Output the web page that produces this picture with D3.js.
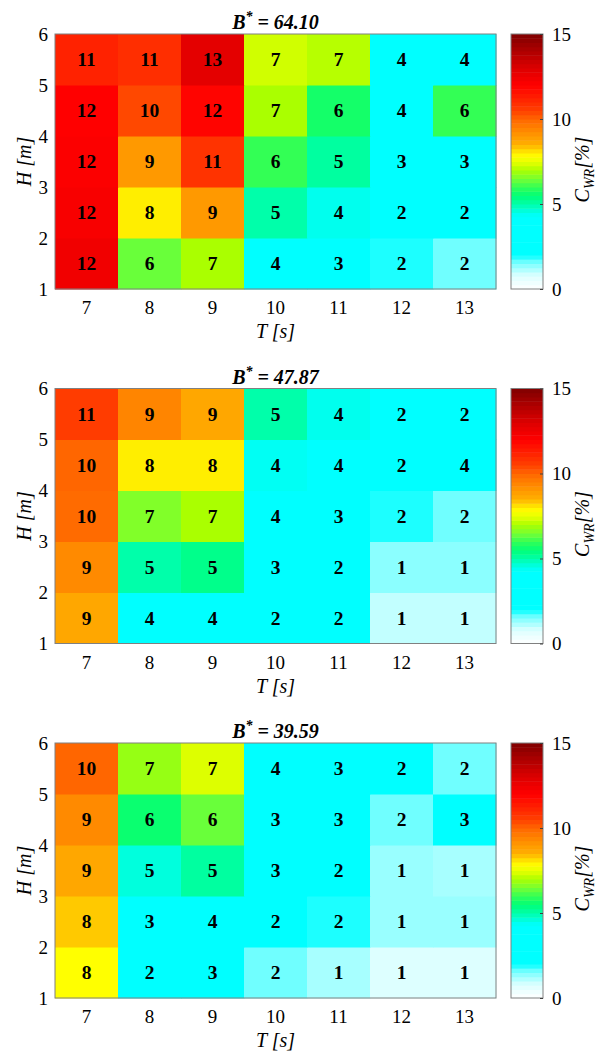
<!DOCTYPE html>
<html>
<head>
<meta charset="utf-8">
<script src="https://cdn.jsdelivr.net/npm/d3@7"></script>
<style>
body { margin: 0; background: #fff; }
text { font-family: "Liberation Serif", "Times New Roman", serif; fill: #000; }
</style>
</head>
<body>
<script>
const periods = [7, 8, 9, 10, 11, 12, 13];      // T [s]
const heightBands = [1, 2, 3, 4, 5];             // lower edge of each H band [m]
const bValues = ["64.10", "47.87", "39.59"];

// C_WR [%] per panel, one row per H band (1-2 m first, 5-6 m last)
const cwrB64 = [
    [12.4, 6.4, 7.0, 3.9, 3.0, 1.9, 1.6],
    [12.2, 8.0, 9.0, 5.0, 4.45, 2.1, 2.0],
    [12.1, 9.0, 10.8, 6.0, 5.1, 3.2, 3.1],
    [12.0, 10.4, 11.9, 7.0, 5.7, 4.0, 6.0],
    [11.2, 10.9, 12.8, 7.3, 7.1, 4.0, 4.1]
];
const cwrB47 = [
    [8.7, 4.0, 4.0, 2.0, 2.0, 1.0, 1.0],
    [9.3, 5.0, 5.3, 3.0, 2.2, 1.4, 1.4],
    [9.9, 6.6, 7.0, 3.9, 3.0, 1.9, 1.6],
    [10.0, 8.0, 8.0, 4.4, 4.0, 2.0, 3.8],
    [10.6, 9.4, 8.7, 5.0, 4.45, 2.2, 2.1]
];
const cwrB39 = [
    [7.8, 2.0, 2.8, 1.6, 1.2, 0.8, 0.8],
    [8.3, 3.0, 3.6, 2.0, 1.9, 1.3, 1.3],
    [8.7, 4.6, 5.1, 3.0, 2.0, 1.3, 1.2],
    [9.3, 5.6, 6.4, 3.0, 3.0, 1.6, 3.0],
    [10.0, 6.8, 7.4, 4.0, 3.0, 2.0, 1.6]
];

// colormap (white -> cyan -> green -> yellow -> red -> dark red)
const colorStops = [0, 0.8, 1.25, 1.6, 2.0, 4.3, 4.6, 5.0, 5.5, 6.0, 6.5, 7.0, 7.4, 7.8, 8.0, 8.5, 9.0, 9.5, 10.0, 10.5, 11.0, 12.0, 13.0, 15.0];
const colorHex = ["#ffffff", "#ddffff", "#a0ffff", "#70ffff", "#00ffff", "#00ffff", "#00ffdd", "#00ffaa", "#00ff77", "#33ff55", "#77ff33", "#aaff00", "#ddff00", "#ffff00", "#ffee00", "#ffb000", "#ff9900", "#ff8000", "#ff6600", "#ff4000", "#ff2a00", "#ff0000", "#dd0000", "#800000"];
const cbarTicks = [0, 5, 10, 15];

const panels = [cwrB64, cwrB47, cwrB39];

const width = 599, height = 1054;
const left = 55, plotW = 441, plotH = 255;
const panelTops = [34, 388.5, 743];
const cbarX = 511, cbarW = 32;
const serif = "Liberation Serif";

const color = d3.scaleLinear().domain(colorStops).range(colorHex).clamp(true);

const svg = d3.select("body").append("svg")
    .attr("width", width)
    .attr("height", height);

const x = d3.scaleBand().domain(periods).range([0, plotW]);
const y = d3.scaleLinear().domain([1, 6]).range([plotH, 0]);
const c = d3.scaleLinear().domain([0, 15]).range([plotH, 0]);

panels.forEach((data, p) => {
    const g = svg.append("g")
        .attr("transform", `translate(${left},${panelTops[p]})`);

    const cells = [];
    data.forEach((row, i) => {
        row.forEach((v, j) => cells.push({ t: periods[j], h: heightBands[i], v: v }));
    });

    // cells
    g.selectAll("rect.cell")
        .data(cells)
        .enter().append("rect")
        .attr("class", "cell")
        .attr("x", d => x(d.t))
        .attr("y", d => y(d.h + 1))
        .attr("width", x.bandwidth() + 0.5)
        .attr("height", y(1) - y(2) + 0.5)
        .attr("fill", d => color(d.v));

    // cell labels
    g.selectAll("text.val")
        .data(cells)
        .enter().append("text")
        .attr("class", "val")
        .attr("x", d => x(d.t) + x.bandwidth() / 2)
        .attr("y", d => y(d.h + 0.5))
        .attr("dy", "0.35em")
        .attr("text-anchor", "middle")
        .attr("font-size", 19.5)
        .attr("font-weight", "bold")
        .text(d => Math.round(d.v));

    // border
    g.append("rect")
        .attr("width", plotW)
        .attr("height", plotH)
        .attr("fill", "none")
        .attr("stroke", "#808080")
        .attr("stroke-width", 1);

    // axes
    const xAxis = g.append("g")
        .attr("transform", `translate(0,${plotH})`)
        .call(d3.axisBottom(x).tickSize(0).tickPadding(12));
    xAxis.select(".domain").remove();
    xAxis.selectAll("text").attr("font-size", 19).attr("font-family", serif).attr("fill", "#262626");

    const yAxis = g.append("g")
        .call(d3.axisLeft(y).ticks(5).tickFormat(d3.format("d")).tickSize(0).tickPadding(7));
    yAxis.select(".domain").remove();
    yAxis.selectAll("text").attr("font-size", 19).attr("font-family", serif).attr("fill", "#262626");

    g.append("text")
        .attr("x", plotW / 2)
        .attr("y", plotH + 49)
        .attr("text-anchor", "middle")
        .attr("font-size", 20)
        .attr("font-style", "italic")
        .attr("fill", "#262626")
        .text("T [s]");

    g.append("text")
        .attr("transform", `translate(${-24},${plotH / 2}) rotate(-90)`)
        .attr("text-anchor", "middle")
        .attr("font-size", 20)
        .attr("font-style", "italic")
        .attr("fill", "#262626")
        .text("H [m]");

    // title
    const title = g.append("text")
        .attr("x", plotW / 2)
        .attr("y", -5)
        .attr("text-anchor", "middle")
        .attr("font-size", 20)
        .attr("font-weight", "bold")
        .attr("font-style", "italic");
    title.append("tspan").text("B");
    title.append("tspan").attr("dy", -8).attr("font-size", 14).text("*");
    title.append("tspan").attr("dy", 8).text(" = " + bValues[p]);

    // colorbar
    const cb = svg.append("g")
        .attr("transform", `translate(${cbarX},${panelTops[p]})`);
    const steps = d3.range(0, 15, 0.25);
    cb.selectAll("rect.band")
        .data(steps)
        .enter().append("rect")
        .attr("class", "band")
        .attr("x", 0)
        .attr("y", d => c(d + 0.25))
        .attr("width", cbarW)
        .attr("height", c(0) - c(0.25) + 0.5)
        .attr("fill", d => color(d + 0.125));
    cb.append("rect")
        .attr("width", cbarW)
        .attr("height", plotH)
        .attr("fill", "none")
        .attr("stroke", "#808080");

    const cAxis = cb.append("g")
        .attr("transform", `translate(${cbarW},0)`)
        .call(d3.axisRight(c).tickValues(cbarTicks).tickSize(-3).tickPadding(9));
    cAxis.select(".domain").remove();
    cAxis.selectAll("line").attr("stroke", "#404040");
    cAxis.selectAll("text").attr("font-size", 19).attr("font-family", serif).attr("fill", "#262626");

    const cl = cb.append("text")
        .attr("transform", `translate(${cbarW + 46},${plotH / 2 + 8}) rotate(-90)`)
        .attr("text-anchor", "middle")
        .attr("font-size", 20)
        .attr("font-style", "italic")
        .attr("fill", "#262626");
    cl.append("tspan").text("C");
    cl.append("tspan").attr("dy", 5).attr("font-size", 14).text("WR");
    cl.append("tspan").attr("dy", -5).text("[%]");
});
</script>
</body>
</html>
